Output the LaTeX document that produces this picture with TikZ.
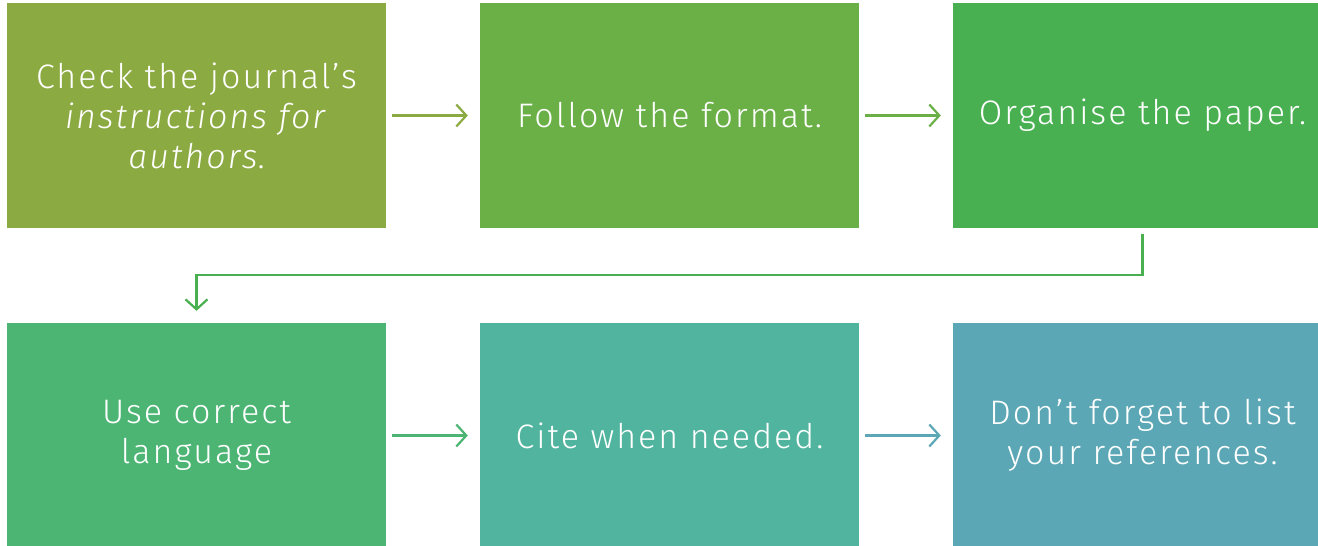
\documentclass[tikz,border=0pt]{standalone}
\usepackage{fontspec}
\setmainfont{Fira Sans}[UprightFont=* Light, ItalicFont=* Light Italic, LetterSpace=6]
\usetikzlibrary{arrows.meta}
\definecolor{cA}{HTML}{8CAA42}
\definecolor{cB}{HTML}{6AB046}
\definecolor{cC}{HTML}{48B050}
\definecolor{cD}{HTML}{4CB573}
\definecolor{cE}{HTML}{50B49E}
\definecolor{cF}{HTML}{5BA7B5}
\tikzset{
  stepbox/.style={rectangle, minimum width=379pt, minimum height=225pt, inner sep=0pt,
    text=white, align=center, font=\fontsize{34}{40}\selectfont},
  conn/.style={line width=2.2pt, -{Straight Barb[length=10pt,width=22pt,line width=2.2pt]},
    shorten <=6pt, shorten >=12pt}
}
\begin{document}
\begin{tikzpicture}[x=1pt,y=-1pt]
\useasboundingbox (0,0) rectangle (1318,546);
\clip (0,0) rectangle (1318,546);
\node[stepbox, fill=cA] (b1) at (196.5,115.5) {Check the journal’s\\\textit{instructions for}\\\textit{authors}.};
\node[stepbox, fill=cB] (b2) at (669.5,115.5) {Follow the format.};
\node[stepbox, fill=cC] (b3) at (1142.5,115.5) {Organise the paper.};
\node[stepbox, fill=cD] (b4) at (196.5,435.5) {Use correct\\language};
\node[stepbox, fill=cE] (b5) at (669.5,435.5) {Cite when needed.};
\node[stepbox, fill=cF] (b6) at (1142.5,435.5) {Don’t forget to list\\your references.};
\draw[conn, draw=cA] (b1.east) -- (b2.west);
\draw[conn, draw=cB] (b2.east) -- (b3.west);
\draw[conn, draw=cC] (b3.south) -- ++(0,47) -| (b4.north);
\draw[conn, draw=cD] (b4.east) -- (b5.west);
\draw[conn, draw=cF] (b5.east) -- (b6.west);
\end{tikzpicture}
\end{document}
